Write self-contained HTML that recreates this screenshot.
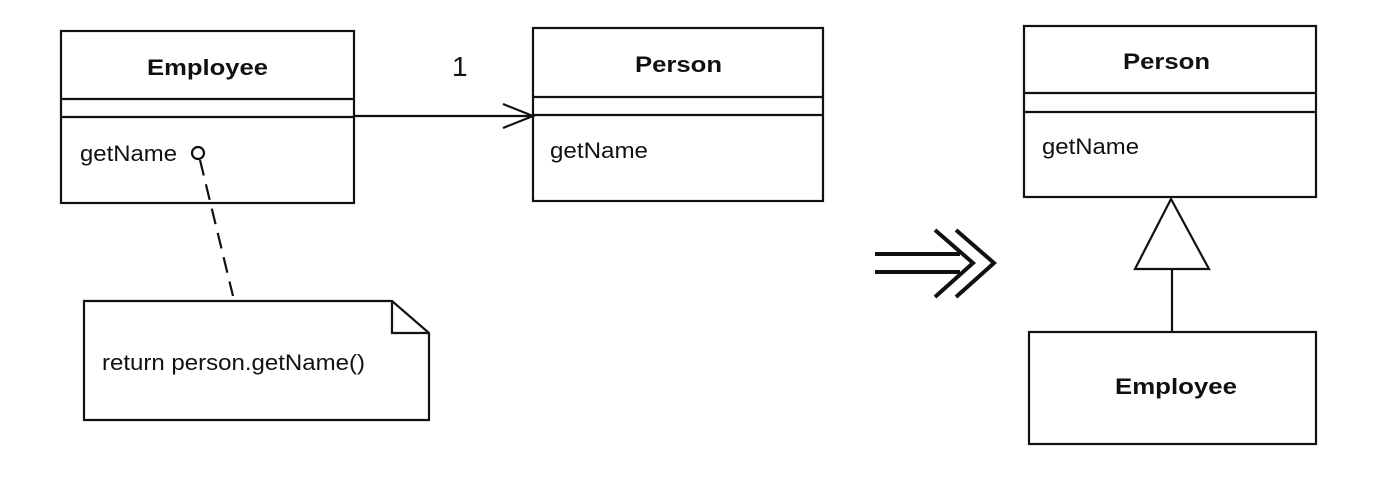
<!DOCTYPE html>
<html><head><style>
body{margin:0;background:#fff;width:1398px;height:476px;overflow:hidden}
svg text{font-family:"Liberation Sans",Arial,sans-serif;fill:#111}
</style></head><body>
<svg width="1398" height="476" viewBox="0 0 1398 476" xmlns="http://www.w3.org/2000/svg">
<g stroke="#111" stroke-width="2.2" fill="none">
<rect x="61" y="31" width="293" height="172"/>
<line x1="61" y1="99" x2="354" y2="99"/>
<line x1="61" y1="117" x2="354" y2="117"/>
<circle cx="198" cy="153" r="6"/>
<line x1="200" y1="160" x2="233" y2="296" stroke-dasharray="16,9"/>
<line x1="354" y1="116" x2="533" y2="116"/>
<polyline points="503,104 533,116 503,128"/>
<rect x="533" y="28" width="290" height="173"/>
<line x1="533" y1="97" x2="823" y2="97"/>
<line x1="533" y1="115" x2="823" y2="115"/>
<path d="M84,301 L392,301 L429,333 L429,420 L84,420 Z"/>
<polyline points="392,301 392,333 429,333"/>
<g stroke-width="4">
<line x1="875" y1="254" x2="960" y2="254"/>
<line x1="875" y1="272" x2="960" y2="272"/>
<polyline points="935,230 973,263 935,297"/>
<polyline points="956,230 994,263 956,297"/>
</g>
<rect x="1024" y="26" width="292" height="171"/>
<line x1="1024" y1="93" x2="1316" y2="93"/>
<line x1="1024" y1="112" x2="1316" y2="112"/>
<polygon points="1171,199 1135,269 1209,269"/>
<line x1="1172" y1="269" x2="1172" y2="332"/>
<rect x="1029" y="332" width="287" height="112"/>
</g>
<text x="147" y="75" font-size="22" font-weight="bold" textLength="121" lengthAdjust="spacingAndGlyphs">Employee</text>
<text x="80" y="161" font-size="22" textLength="97" lengthAdjust="spacingAndGlyphs">getName</text>
<text x="452" y="76" font-size="28">1</text>
<text x="635" y="72" font-size="22" font-weight="bold" textLength="87" lengthAdjust="spacingAndGlyphs">Person</text>
<text x="550" y="158" font-size="22" textLength="98" lengthAdjust="spacingAndGlyphs">getName</text>
<text x="102" y="370" font-size="22" textLength="263" lengthAdjust="spacingAndGlyphs">return person.getName()</text>
<text x="1123" y="69" font-size="22" font-weight="bold" textLength="87" lengthAdjust="spacingAndGlyphs">Person</text>
<text x="1042" y="154" font-size="22" textLength="97" lengthAdjust="spacingAndGlyphs">getName</text>
<text x="1115" y="394" font-size="22" font-weight="bold" textLength="122" lengthAdjust="spacingAndGlyphs">Employee</text>
</svg>
</body></html>
